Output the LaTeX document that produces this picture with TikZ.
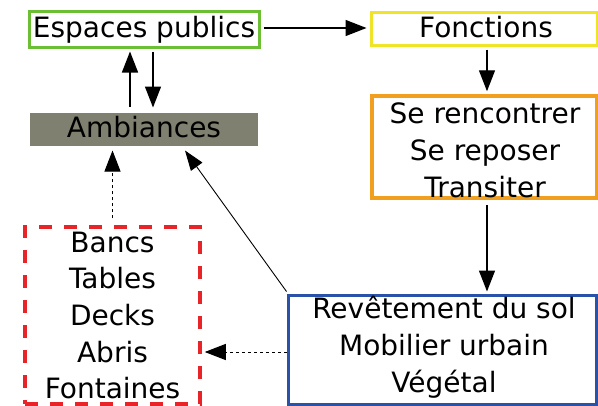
\documentclass[tikz,border=0pt]{standalone}
\usepackage{fontspec}
\setmainfont{DejaVu Sans}
\usetikzlibrary{arrows.meta,calc}
\definecolor{cgreen}{RGB}{108,190,52}
\definecolor{cyellow}{RGB}{240,228,40}
\definecolor{corange}{RGB}{240,160,30}
\definecolor{cblue}{RGB}{42,82,168}
\definecolor{cred}{RGB}{232,36,40}
\definecolor{cgray}{RGB}{128,128,112}
\begin{document}
\begin{tikzpicture}[x=1pt,y=-1pt,
  box/.style={rectangle, inner sep=0pt, line width=3pt},
  lbl/.style={anchor=base, inner sep=0pt, font=\fontsize{28}{36}\selectfont},
  arr/.style={line width=1.4pt, -{Triangle[length=21pt,width=16pt]}},
  thinarr/.style={line width=0.9pt, -{Triangle[length=20pt,width=14pt]}},
  dotarr/.style={line width=1pt, dash pattern=on 3pt off 3pt, -{Triangle[length=21pt,width=16pt]}}]
\useasboundingbox[fill=white] (0,0) rectangle (598,405);
% boxes
\node[box, draw=cgreen, minimum width=230pt, minimum height=36pt] (esp) at (144,29) {};
\node[box, draw=cyellow, minimum width=226pt, minimum height=33pt] (fon) at (484,28.5) {};
\node[box, draw=corange, line width=3.5pt, minimum width=225pt, minimum height=102pt] (fun) at (484.5,147) {};
\node[box, draw=cblue, line width=3pt, minimum width=308pt, minimum height=109pt] (rev) at (442,349.5) {};
\node[box, fill=cgray, minimum width=228pt, minimum height=33pt] (amb) at (144,129.5) {};
\node[box, draw=cred, line width=3.5pt, dash pattern=on 13pt off 12pt, minimum width=175pt, minimum height=177pt] (red) at (112.5,315.5) {};
% texts
\node[lbl] (tesp) at (144,37) {Espaces publics};
\node[lbl] (tfon) at (486,37) {Fonctions};
\node[lbl] (tamb) at (144,137) {Ambiances};
\node[lbl] (tf1) at (485,123) {Se rencontrer};
\node[lbl] (tf2) at (485,160) {Se reposer};
\node[lbl] (tf3) at (485,197) {Transiter};
\node[lbl] (tr1) at (444,318) {Revêtement du sol};
\node[lbl] (tr2) at (444,355) {Mobilier urbain};
\node[lbl] (tr3) at (444,392) {Végétal};
\node[lbl] (tb1) at (112.5,252) {Bancs};
\node[lbl] (tb2) at (112.5,288) {Tables};
\node[lbl] (tb3) at (112.5,325) {Decks};
\node[lbl] (tb4) at (112.5,362) {Abris};
\node[lbl] (tb5) at (112.5,398) {Fontaines};
% connectors
\draw[arr] ($(esp.east)+(3,-1)$) -- ($(fon.west |- esp.east)+(-3,-1)$);
\draw[arr] ($(amb.north)+(-14,-5)$) -- ($(esp.south)+(-14,3)$);
\draw[arr] ($(esp.south)+(9,3)$) -- ($(amb.north)+(9,-4)$);
\draw[arr] ($(fon.south)+(3,3)$) -- ($(fun.north)+(2.5,-3)$);
\draw[arr] ($(fun.south)+(2.5,5)$) -- ($(fun.south |- rev.north)+(2.5,-2)$);
\draw[thinarr] ($(rev.north west)+(0,-2)$) -- ($(amb.south)+(41,3)$);
\draw[dotarr] ($(red.north)+(0,-7)$) -- ($(red.north |- amb.south)+(0,3)$);
\draw[dotarr] ($(rev.west)+(0,2.5)$) -- ($(red.east |- rev.west)+(3,2.5)$);
\end{tikzpicture}
\end{document}
